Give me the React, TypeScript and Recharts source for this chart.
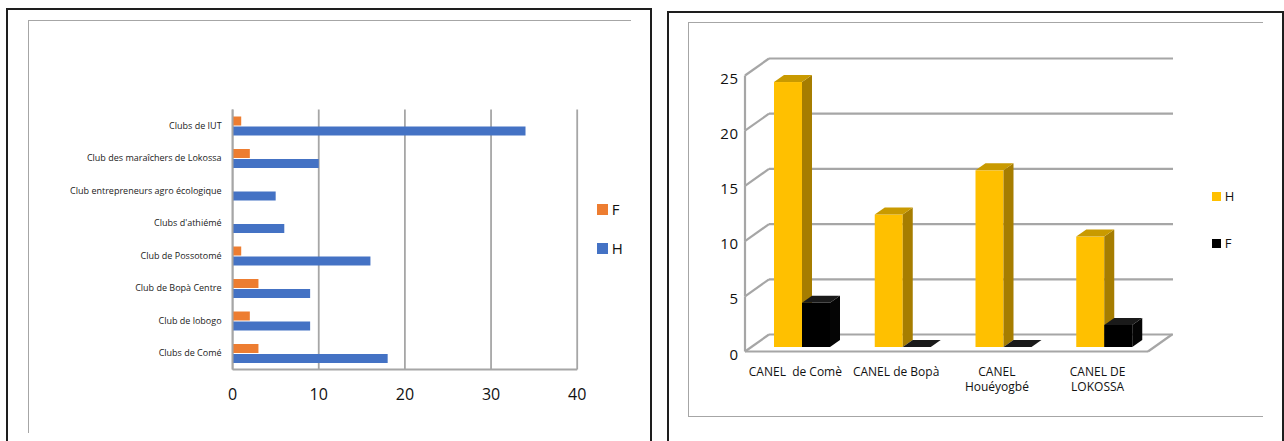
import React from 'react';
import { BarChart, Bar, XAxis, YAxis, CartesianGrid, Legend } from 'recharts';

// ---------- Left chart data ----------
const clubCategories = [
  'Clubs de IUT',
  'Club des maraîchers de Lokossa',
  'Club entrepreneurs agro écologique',
  "Clubs d'athiémé",
  'Club de Possotomé',
  'Club de Bopà  Centre',
  'Club de lobogo',
  'Clubs de Comé',
];
const clubF = [1, 2, 0, 0, 1, 3, 2, 3];
const clubH = [34, 10, 5, 6, 16, 9, 9, 18];
const clubTicks = [0, 10, 20, 30, 40];
const clubSeries = ['F', 'H'];

// ---------- Right chart data ----------
const canelCategories = ['CANEL  de Comè', 'CANEL de Bopà', 'CANEL Houéyogbé', 'CANEL DE LOKOSSA'];
const canelH = [24, 12, 16, 10];
const canelF = [4, 0, 0, 2];
const canelTicks = [0, 5, 10, 15, 20, 25];
const canelSeries = ['H', 'F'];

const clubData = clubCategories.map((name, i) => ({ name, F: clubF[i], H: clubH[i] }));
const canelData = canelCategories.map((name, i) => ({ name, H: canelH[i], F: canelF[i] }));

const FONT = '"Open Sans", sans-serif';
const ORANGE = '#ED7D31';
const BLUE = '#4472C4';
const GOLD = '#FFC000';
const GRID = '#a6a6a6';

// right chart layout
const R_TOP = 71;
const R_H = 276;
const R_BOTTOM = R_TOP + R_H;
const FRONT_DX = -7;
const FRONT_DY = 4.5;
const BACK_DX = 17;
const BACK_DY = -12.5;
const STEP = R_H / (canelTicks.length - 1);
const BDX = 10;
const BDY = 7;

const WallLine = (p: any) => {
  const { x1, x2, y1 } = p;
  const fx = x1 + FRONT_DX;
  const fy = y1 + FRONT_DY;
  const bx = x1 + BACK_DX;
  const by = y1 + BACK_DY;
  const isFloor = Math.abs(y1 - R_BOTTOM) < 0.6;
  const st = { stroke: GRID, strokeWidth: 2.2, fill: 'none' };
  return (
    <g key={p.key}>
      <line x1={bx} y1={by} x2={x2 + BACK_DX + 1} y2={by} {...st} />
      <line x1={fx} y1={fy} x2={bx} y2={by} {...st} />
      {!isFloor && <line x1={fx} y1={fy} x2={fx} y2={fy + STEP} {...st} />}
      {isFloor && (
        <>
          <line x1={fx} y1={fy} x2={x2 + FRONT_DX} y2={fy} {...st} />
          <line x1={x2 + FRONT_DX} y1={fy} x2={x2 + BACK_DX} y2={by} {...st} />
        </>
      )}
    </g>
  );
};

const make3D = (front: string, side: string, top: string) => (props: any) => {
  const { x, y, width, height } = props;
  if (x == null || y == null) return <g />;
  const h = Math.max(0, height || 0);
  return (
    <g>
      {h > 0 && <rect x={x} y={y} width={width} height={h} fill={front} />}
      {h > 0 && (
        <polygon
          points={`${x + width},${y} ${x + width + BDX},${y - BDY} ${x + width + BDX},${y + h - BDY} ${x + width},${y + h}`}
          fill={side}
        />
      )}
      <polygon
        points={`${x},${y} ${x + BDX},${y - BDY} ${x + width + BDX},${y - BDY} ${x + width},${y}`}
        fill={top}
      />
    </g>
  );
};

const wrapLabel = (s: string) => {
  if (s.length <= 14) return [s];
  const i = s.lastIndexOf(' ');
  return [s.slice(0, i), s.slice(i + 1)];
};

const CanelTick = (props: any) => {
  const { x, y, payload } = props;
  const lines = wrapLabel(String(payload.value));
  return (
    <text x={x + FRONT_DX} y={y + 29} textAnchor="middle" fontSize={12} fontFamily={FONT} fill="#111" style={{ whiteSpace: 'pre' }}>
      {lines.map((l, i) => (
        <tspan key={i} x={x + FRONT_DX} dy={i === 0 ? 0 : 15}>
          {l}
        </tspan>
      ))}
    </text>
  );
};

const CanelYTick = (props: any) => {
  const { x, y, payload } = props;
  return (
    <text x={x} y={y + 12.5} textAnchor="end" fontSize={15} fontFamily={FONT} fill="#111" letterSpacing={0.8}>
      {payload.value}
    </text>
  );
};

const makeLegend = (order: string[], size: number, rowH: number, fontSize: number, gap: number) => (props: any) => {
  const payload = [...(props.payload || [])].sort(
    (a: any, b: any) => order.indexOf(String(a.value)) - order.indexOf(String(b.value))
  );
  return (
    <div style={{ fontFamily: FONT, fontSize, color: '#111' }}>
      {payload.map((item: any) => (
        <div key={item.value} style={{ height: rowH, display: 'flex', alignItems: 'center' }}>
          <span style={{ display: 'inline-block', width: size, height: size, background: item.color, marginRight: gap }} />
          <span style={{ lineHeight: 1 }}>{item.value}</span>
        </div>
      ))}
    </div>
  );
};

export default function App() {
  return (
    <div style={{ position: 'absolute', left: 0, top: 0, width: 1284, height: 441, overflow: 'hidden', background: '#fff' }}>
      {/* Left panel frames */}
      <div style={{ position: 'absolute', left: 6, top: 8, width: 646, height: 440, border: '2px solid #1e1e1e', borderBottom: 'none', boxSizing: 'border-box' }} />
      <div style={{ position: 'absolute', left: 28, top: 20, width: 603, height: 413, borderTop: '1.5px solid #a6a6a6', borderLeft: '1.5px solid #a6a6a6', boxSizing: 'border-box' }} />
      {/* Right panel frames */}
      <div style={{ position: 'absolute', left: 667, top: 11, width: 617, height: 440, border: '2px solid #1e1e1e', borderBottom: 'none', boxSizing: 'border-box' }} />
      <div style={{ position: 'absolute', left: 688, top: 22, width: 575, height: 395, borderTop: '1.5px solid #a6a6a6', borderLeft: '1.5px solid #a6a6a6', borderBottom: '1.5px solid #a6a6a6', boxSizing: 'border-box' }} />

      {/* Left chart */}
      <div style={{ position: 'absolute', left: 0, top: 0 }}>
        <BarChart
          width={650}
          height={441}
          data={clubData}
          layout="vertical"
          margin={{ top: 109.5, right: 72.8, bottom: 31.5, left: 0 }}
          barGap={1}
        >
          <CartesianGrid vertical={true} horizontal={false} stroke={GRID} strokeWidth={1.8} />
          <XAxis
            type="number"
            domain={[0, 40]}
            ticks={clubTicks}
            height={40}
            tickSize={0}
            tickMargin={19}
            tickLine={false}
            axisLine={{ stroke: GRID, strokeWidth: 1.8 }}
            tick={{ fontSize: 16, fill: '#111', fontFamily: FONT }}
          />
          <YAxis
            type="category"
            dataKey="name"
            width={232.6}
            interval={0}
            tickSize={0}
            tickMargin={11}
            tickLine={false}
            axisLine={{ stroke: GRID, strokeWidth: 1.8 }}
            tick={{ fontSize: 9, fill: '#222', fontFamily: FONT }}
          />
          <Legend
            layout="vertical"
            align="center"
            verticalAlign="middle"
            wrapperStyle={{ left: 597, top: 190, width: 50 }}
            content={makeLegend(clubSeries, 10.7, 39, 15, 4)}
          />
          <Bar dataKey="F" name="F" fill={ORANGE} barSize={9} isAnimationActive={false} />
          <Bar dataKey="H" name="H" fill={BLUE} barSize={9} isAnimationActive={false} />
        </BarChart>
      </div>

      {/* Right chart */}
      <div style={{ position: 'absolute', left: 660, top: 0 }}>
        <BarChart
          width={620}
          height={441}
          data={canelData}
          margin={{ top: R_TOP, right: 125, bottom: 441 - R_BOTTOM - 60, left: 0 }}
          barGap={0}
        >
          <CartesianGrid vertical={false} horizontal={(p: any) => <WallLine {...p} />} />
          <XAxis
            dataKey="name"
            height={60}
            interval={0}
            tickSize={0}
            tickMargin={0}
            tickLine={false}
            axisLine={false}
            tick={<CanelTick />}
          />
          <YAxis
            type="number"
            domain={[0, 25]}
            ticks={canelTicks}
            width={92}
            tickSize={0}
            tickMargin={13}
            tickLine={false}
            axisLine={false}
            tick={<CanelYTick />}
          />
          <Legend
            layout="vertical"
            align="center"
            verticalAlign="middle"
            wrapperStyle={{ left: 552, top: 172.8, width: 50 }}
            content={makeLegend(canelSeries, 8.7, 47, 13, 4)}
          />
          <Bar dataKey="H" name="H" fill={GOLD} barSize={28} isAnimationActive={false} shape={make3D(GOLD, '#A67D00', '#C99A00')} />
          <Bar dataKey="F" name="F" fill="#000000" barSize={28} isAnimationActive={false} shape={make3D('#000000', '#050505', '#1a1a1a')} />
        </BarChart>
      </div>
    </div>
  );
}
